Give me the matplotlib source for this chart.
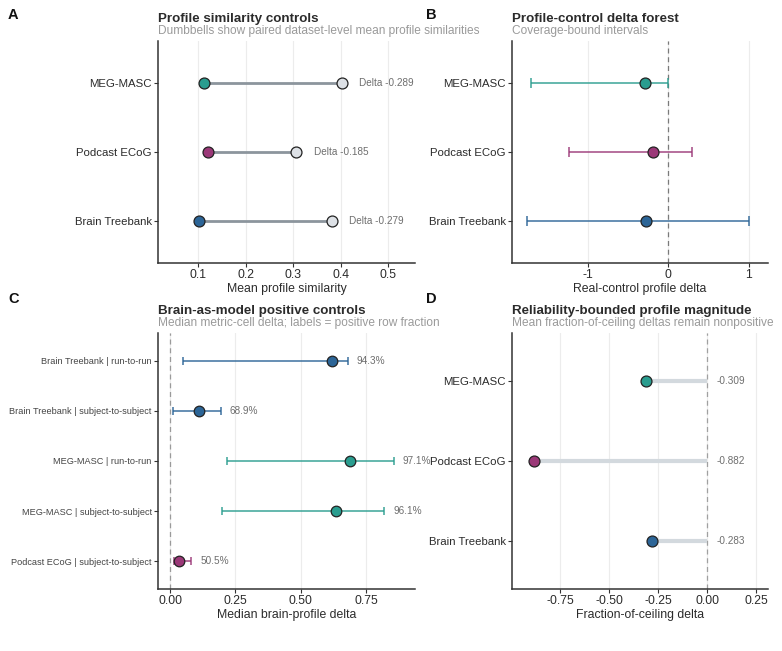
import matplotlib.pyplot as plt
from matplotlib.transforms import offset_copy

plt.rcParams['font.family'] = ['Liberation Sans', 'DejaVu Sans']

# colours per dataset
TEAL = "#2a9d8f"
PURPLE = "#9b3878"
BLUE = "#2c6597"
INK = "#2b2b2b"
GREY_TXT = "#6e6e6e"

# panel A / B / D datasets (bottom to top)
datasets = ["Brain Treebank", "Podcast ECoG", "MEG-MASC"]
ds_colors = [BLUE, PURPLE, TEAL]

# A: mean profile similarity
real_sim = [0.102, 0.122, 0.113]
control_sim = [0.381, 0.307, 0.402]
sim_delta_labels = ["Delta -0.279", "Delta -0.185", "Delta -0.289"]

# B: real-control delta forest
delta_point = [-0.279, -0.185, -0.289]
delta_low = [-1.75, -1.23, -1.71]
delta_high = [1.01, 0.29, 0.0]

# C: brain-as-model positive controls (bottom to top)
c_rows = ["Podcast ECoG | subject-to-subject", "MEG-MASC | subject-to-subject",
          "MEG-MASC | run-to-run", "Brain Treebank | subject-to-subject",
          "Brain Treebank | run-to-run"]
c_colors = [PURPLE, TEAL, TEAL, BLUE, BLUE]
c_median = [0.034, 0.636, 0.690, 0.112, 0.621]
c_low = [0.015, 0.200, 0.217, 0.013, 0.049]
c_high = [0.082, 0.820, 0.857, 0.194, 0.682]
c_pct = ["50.5%", "96.1%", "97.1%", "68.9%", "94.3%"]

# D: fraction-of-ceiling delta
frac_delta = [-0.283, -0.882, -0.309]
frac_labels = ["-0.283", "-0.882", "-0.309"]


def style_axis(ax, title, subtitle):
    for s in ["top", "right"]:
        ax.spines[s].set_visible(False)
    for s in ["left", "bottom"]:
        ax.spines[s].set_color("#333333")
        ax.spines[s].set_linewidth(1.1)
    ax.grid(axis="x", color="#ececec", linewidth=0.8)
    ax.set_axisbelow(True)
    ax.tick_params(colors="#333333", labelcolor=INK, labelsize=8.8, length=3, pad=1.5)
    ax.tick_params(axis="y", labelsize=8.2)
    sub_tr = offset_copy(ax.transAxes, fig=fig, x=0, y=4, units="dots")
    tit_tr = offset_copy(ax.transAxes, fig=fig, x=0, y=16, units="dots")
    ax.text(0, 1, subtitle, transform=sub_tr, fontsize=8.6,
            color="#9a9a9a", va="bottom", ha="left")
    ax.text(0, 1, title, transform=tit_tr, fontsize=9.6,
            fontweight="bold", color=INK, va="bottom", ha="left")


fig = plt.figure(figsize=(7.82, 6.51), dpi=100)
W, H = 782, 651


def add_axes(x0, y0, x1, y1):
    return fig.add_axes([x0 / W, 1 - y1 / H, (x1 - x0) / W, (y1 - y0) / H])


axA = add_axes(158, 41, 415, 263)
axB = add_axes(512, 41, 768, 263)
axC = add_axes(158, 333, 415, 589)
axD = add_axes(512, 333, 768, 589)

ypos = list(range(len(datasets)))
PT = 62

# A
for i in ypos:
    axA.plot([real_sim[i], control_sim[i]], [i, i], color="#8c959d", lw=2, zorder=2)
    axA.scatter(control_sim[i], i, s=PT, color="#dde1e6", edgecolor="#222222", lw=0.9, zorder=3)
    axA.scatter(real_sim[i], i, s=PT, color=ds_colors[i], edgecolor="#222222", lw=0.9, zorder=3)
    axA.text(control_sim[i] + 0.036, i, sim_delta_labels[i], fontsize=7.2,
             color=GREY_TXT, va="center", ha="left")
axA.set_xlim(0.016, 0.556)
axA.set_ylim(-0.6, 2.6)
axA.set_xticks([0.1, 0.2, 0.3, 0.4, 0.5])
axA.set_xticklabels(["0.1", "0.2", "0.3", "0.4", "0.5"])
axA.set_yticks(ypos)
axA.set_yticklabels(datasets)
axA.set_xlabel("Mean profile similarity", fontsize=8.8, color=INK, labelpad=1)
style_axis(axA, "Profile similarity controls",
           "Dumbbells show paired dataset-level mean profile similarities")

# B
axB.axvline(0, color="#7a7a7a", lw=0.9, ls=(0, (4, 3)), zorder=1)
for i in ypos:
    axB.errorbar(delta_point[i], i,
                 xerr=[[delta_point[i] - delta_low[i]], [delta_high[i] - delta_point[i]]],
                 fmt="none", ecolor=ds_colors[i], elinewidth=1.2, capsize=3.5,
                 capthick=1.2, alpha=0.85, zorder=2)
    axB.scatter(delta_point[i], i, s=PT, color=ds_colors[i], edgecolor="#222222", lw=0.9, zorder=3)
axB.set_xlim(-1.94, 1.24)
axB.set_ylim(-0.6, 2.6)
axB.set_xticks([-1, 0, 1])
axB.set_xticklabels(["-1", "0", "1"])
axB.set_yticks(ypos)
axB.set_yticklabels(datasets)
axB.set_xlabel("Real-control profile delta", fontsize=8.8, color=INK, labelpad=1)
style_axis(axB, "Profile-control delta forest", "Coverage-bound intervals")

# C
cpos = list(range(len(c_rows)))
axC.axvline(0, color="#9a9a9a", lw=0.9, ls=(0, (4, 3)), zorder=1)
for i in cpos:
    axC.errorbar(c_median[i], i,
                 xerr=[[c_median[i] - c_low[i]], [c_high[i] - c_median[i]]],
                 fmt="none", ecolor=c_colors[i], elinewidth=1.2, capsize=3,
                 capthick=1.2, alpha=0.85, zorder=2)
    axC.scatter(c_median[i], i, s=PT - 4, color=c_colors[i], edgecolor="#222222", lw=0.9, zorder=3)
    axC.text(c_high[i] + 0.033, i, c_pct[i], fontsize=7.2, color=GREY_TXT,
             va="center", ha="left", clip_on=False)
axC.set_xlim(-0.046, 0.937)
axC.set_ylim(-0.55, 4.55)
axC.set_xticks([0.0, 0.25, 0.5, 0.75])
axC.set_xticklabels(["0.00", "0.25", "0.50", "0.75"])
axC.set_yticks(cpos)
axC.set_yticklabels(c_rows)
axC.set_xlabel("Median brain-profile delta", fontsize=8.8, color=INK, labelpad=1)
style_axis(axC, "Brain-as-model positive controls",
           "Median metric-cell delta; labels = positive row fraction")
axC.tick_params(axis="y", labelsize=6.6, labelcolor="#444444")

# D
axD.axvline(0, color="#a0a0a0", lw=0.9, ls=(0, (4, 3)), zorder=1)
for i in ypos:
    axD.plot([frac_delta[i], 0], [i, i], color="#d3d9de", lw=3, zorder=2, solid_capstyle="butt")
    axD.scatter(frac_delta[i], i, s=PT, color=ds_colors[i], edgecolor="#222222", lw=0.9, zorder=3)
    axD.text(0.051, i, frac_labels[i], fontsize=7.2, color=GREY_TXT, va="center", ha="left")
axD.set_xlim(-0.995, 0.311)
axD.set_ylim(-0.6, 2.6)
axD.set_xticks([-0.75, -0.5, -0.25, 0.0, 0.25])
axD.set_xticklabels(["-0.75", "-0.50", "-0.25", "0.00", "0.25"])
axD.set_yticks(ypos)
axD.set_yticklabels(datasets)
axD.set_xlabel("Fraction-of-ceiling delta", fontsize=8.8, color=INK, labelpad=1)
style_axis(axD, "Reliability-bounded profile magnitude",
           "Mean fraction-of-ceiling deltas remain nonpositive")

# panel letters
for lab, x, y in [("A", 8, 8), ("B", 426, 8), ("C", 8, 292), ("D", 426, 292)]:
    fig.text(x / W, 1 - y / H, lab, fontsize=10.5, fontweight="bold", color="#111111",
             va="top", ha="left")

fig.savefig("out.png", dpi=100, facecolor="white")
